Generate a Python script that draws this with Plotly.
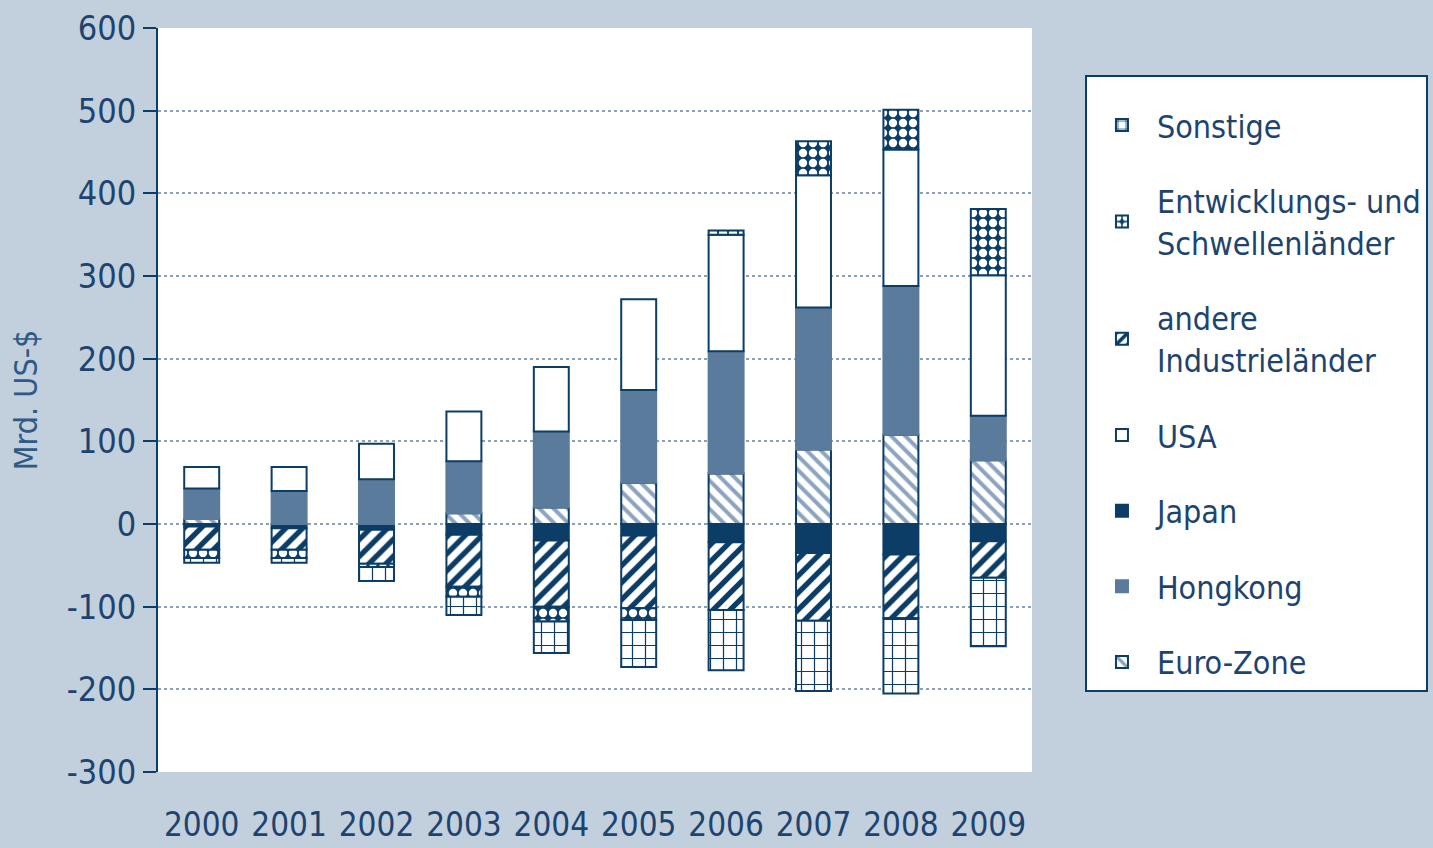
import plotly.graph_objects as go

years = [2000, 2001, 2002, 2003, 2004, 2005, 2006, 2007, 2008, 2009]
year_labels = [str(y) for y in years]

euro_zone = [6, 0, 0, 13, 20, 50, 61, 90, 108, 77]
japan = [-3, -5, -7, -13, -20, -14, -22, -35, -37, -21]
hongkong = [37, 40, 54, 63, 92, 112, 148, 172, 180, 54]
andere = [-28, -26, -41, -63, -80, -88, -82, -82, -77, -44]
usa = [26, 29, 43, 60, 78, 110, 141, 160, 165, 170]
entwicklung = [-10, -10, -4, -12, -18, -14, 5, 41, 48, 80]
sonstige = [-6, -6, -17, -22, -38, -57, -73, -85, -91, -83]

y_ticks = [-300, -200, -100, 0, 100, 200, 300, 400, 500, 600]
y_tick_labels = ["-300", "-200", "-100", "0", "100", "200", "300", "400", "500", "600"]
boundaries = [2000.5, 2001.5, 2002.5, 2003.5, 2004.5, 2005.5, 2006.5, 2007.5, 2008.5, 2009.5]

NAVY = "#0b3d66"
HK = "#5a7b9c"
LIGHT = "#8ca4c0"
BG = "#c2cfdd"
TXT = "#1d4470"
FONT = "DejaVu Sans Condensed, Liberation Sans Narrow, sans-serif"

W = 0.4
fig = go.Figure()

def add(name, vals, rank, color="white", line=NAVY, pattern=None):
    fig.add_trace(go.Bar(
        x=years, y=vals, name=name, width=W, legendrank=rank, legendgroup=name,
        marker=dict(color=color, line=dict(color=line, width=2),
                    pattern=pattern if pattern else dict(shape="")),
    ))

add("Euro-Zone", euro_zone, 7,
    pattern=dict(shape="\\", fgcolor=LIGHT, bgcolor="white", size=10, solidity=0.4, fgopacity=1))
add("Japan", japan, 5, color=NAVY)
add("Hongkong", hongkong, 6, color=HK, line=HK)
add("andere<br>Industrieländer", andere, 3,
    pattern=dict(shape="/", fgcolor=NAVY, bgcolor="white", size=12, solidity=0.45, fgopacity=1))
add("USA", usa, 4)
add("Entwicklungs- und<br>Schwellenländer", entwicklung, 2,
    pattern=dict(shape=".", fgcolor="white", bgcolor=NAVY, size=10, solidity=0.55, fgopacity=1))
add("Sonstige", sonstige, 1,
    pattern=dict(shape="+", fgcolor=NAVY, bgcolor="white", size=13, solidity=0.18, fgopacity=1))

fig.update_layout(
    barmode="relative",
    width=1433, height=848,
    paper_bgcolor=BG, plot_bgcolor="white",
    margin=dict(l=158, r=401, t=28, b=76, autoexpand=False),
    font=dict(family=FONT, color=TXT, size=33),
    xaxis=dict(range=[1999.5, 2009.5], tickvals=years, ticktext=year_labels,
               tickangle=0, showgrid=False, zeroline=False, showline=False, ticks="",
               ticklabelstandoff=30, automargin=False, tickfont=dict(size=33, color=TXT)),
    xaxis2=dict(overlaying="x", anchor="free", position=1/3, side="bottom",
                range=[1999.5, 2009.5], tickvals=boundaries, showticklabels=False,
                ticks="outside", ticklen=13, tickwidth=2, tickcolor=NAVY,
                showline=True, linecolor=NAVY, linewidth=2, automargin=False,
                showgrid=False, zeroline=False),
    yaxis=dict(range=[-300, 600], tickvals=y_ticks, ticktext=y_tick_labels, showgrid=True,
               gridcolor="#8aa0ba", griddash="dot", gridwidth=1.5,
               zeroline=False, showline=True, linecolor=NAVY, linewidth=2,
               ticks="outside", ticklen=13, tickwidth=2, tickcolor=NAVY,
               automargin=False, tickfont=dict(size=34, color=TXT),
               title=dict(text="Mrd. US-$", font=dict(size=32, color="#2f5a86"), standoff=20)),
    legend=dict(x=1.0606, y=0.9368, xanchor="left", yanchor="top",
                bgcolor="white", bordercolor=NAVY, borderwidth=2,
                font=dict(size=32, color=TXT), tracegroupgap=31, itemwidth=60,
                entrywidth=288,
                title=dict(text=" ", font=dict(size=16)),
                traceorder="grouped"),
)

fig.write_html("out.html", config={"displayModeBar": False},
               post_script="document.body.style.margin='0';")
